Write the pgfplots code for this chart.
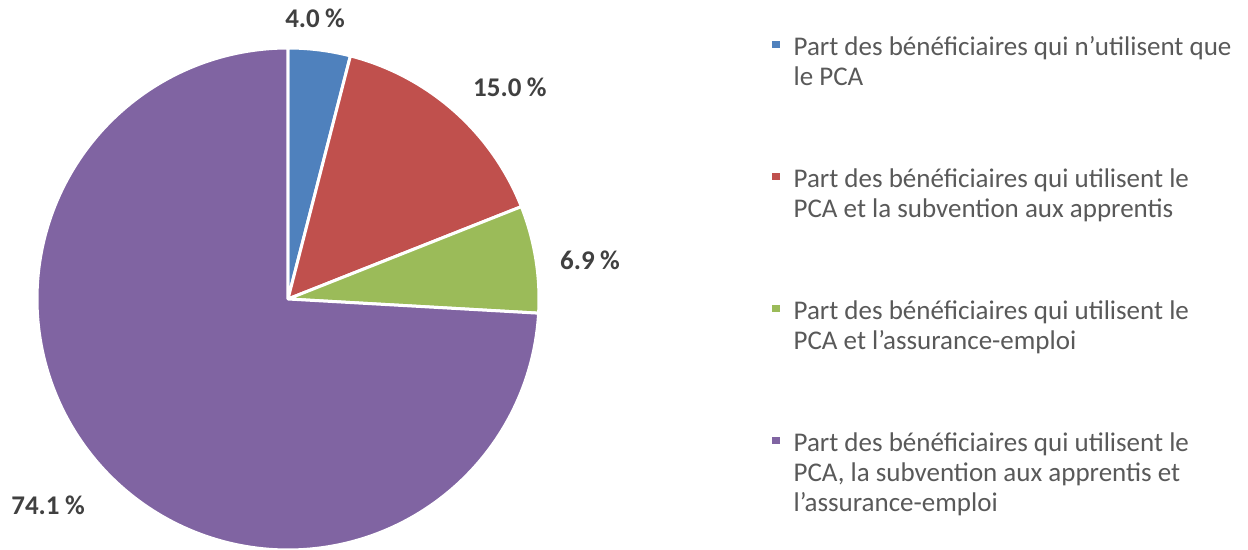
\documentclass[border=0pt]{standalone}
\usepackage{pgfplots}
\pgfplotsset{compat=1.18}
\usepackage{fontspec}
\setmainfont{Carlito}
\definecolor{cblue}{HTML}{4F81BD}
\definecolor{cred}{HTML}{C0504D}
\definecolor{cgreen}{HTML}{9BBB59}
\definecolor{cpurple}{HTML}{8064A2}
\definecolor{ltext}{HTML}{595959}
\definecolor{dtext}{HTML}{404040}
\newcommand{\legentry}[1]{\vtop{#1}}
\newcommand{\legline}[1]{\hbox{\strut #1}}
\begin{document}
\begin{tikzpicture}
\path[use as bounding box] (-144pt,-125.5pt) rectangle (480pt,149.5pt);
\begin{axis}[
  at={(0,0)}, anchor=origin,
  x=125.5pt, y=125.5pt,
  xmin=-1.1474, xmax=3.8247, ymin=-1, ymax=1.1912,
  hide axis, clip=false,
  legend style={draw=none, fill=none, at={(0.6186,0.9382)}, anchor=north west,
    font=\fontsize{13.5}{15}\selectfont, text=ltext,
    inner sep=0pt, row sep=54pt, column sep=6.8pt,
    nodes={inner sep=0pt},
    cells={anchor=base west}},
  legend cell align=left,
  legend image code/.code={\fill[#1,draw=none] (0pt,-1pt) rectangle (3.8pt,2.8pt);},
  every axis plot/.append style={draw=white, line width=1.5pt, line join=round, samples=60},
]
% percentages: 4.0, 15.0, 6.9, 74.1 ; start at 90 deg, clockwise (3.6 deg per %)
\addplot[fill=cblue, domain=75.6:90] ({cos(x)},{sin(x)}) -- (0,0) -- cycle;
\addlegendentry{\legentry{\legline{Part des bénéficiaires qui n’utilisent que}\legline{le PCA}}}
\addplot[fill=cred, domain=21.6:75.6] ({cos(x)},{sin(x)}) -- (0,0) -- cycle;
\addlegendentry{\legentry{\legline{Part des bénéficiaires qui utilisent le}\legline{PCA et la subvention aux apprentis}}}
\addplot[fill=cgreen, domain=-3.24:21.6] ({cos(x)},{sin(x)}) -- (0,0) -- cycle;
\addlegendentry{\legentry{\legline{Part des bénéficiaires qui utilisent le}\legline{PCA et l’assurance-emploi}}}
\addplot[fill=cpurple, domain=-270:-3.24, samples=200] ({cos(x)},{sin(x)}) -- (0,0) -- cycle;
\addlegendentry{\legentry{\legline{Part des bénéficiaires qui utilisent le}\legline{PCA, la subvention aux apprentis et}\legline{l’assurance-emploi}}}
\begin{scope}[every node/.style={font=\fontsize{13.5}{16}\selectfont\bfseries, text=dtext}]
\node at (axis cs:0.108,1.12) {4.0\hspace{0.2em}\%};
\node at (axis cs:0.884,0.845) {15.0\hspace{0.2em}\%};
\node at (axis cs:1.203,0.155) {6.9\hspace{0.2em}\%};
\node at (axis cs:-0.956,-0.821) {74.1\hspace{0.2em}\%};
\end{scope}
\end{axis}
\end{tikzpicture}
\end{document}
